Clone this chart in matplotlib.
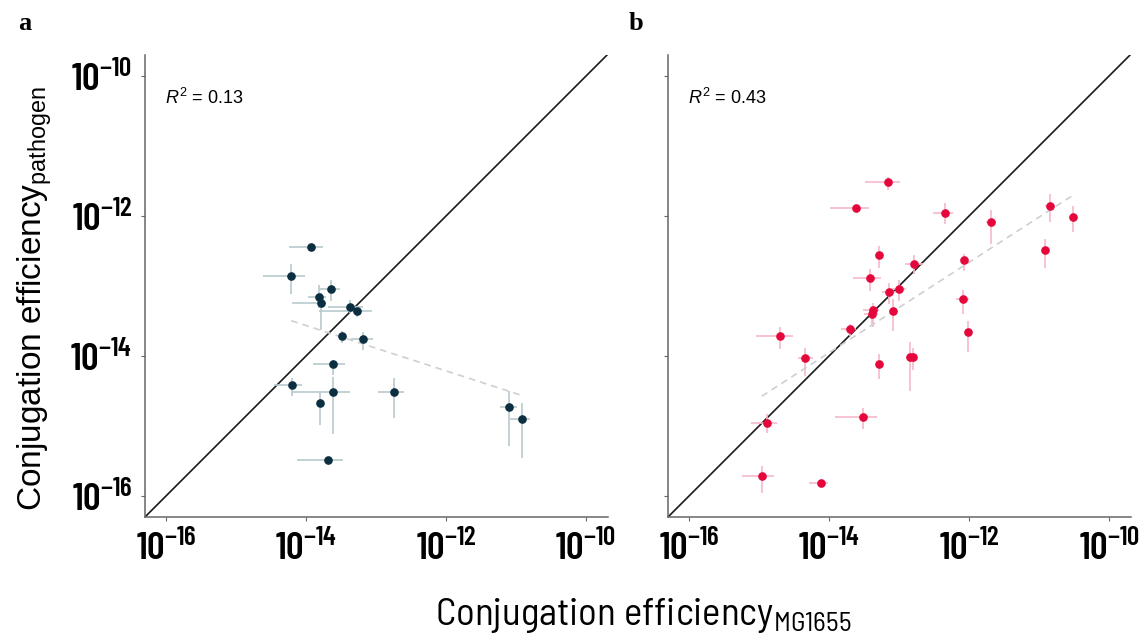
import numpy as np
import matplotlib
matplotlib.use("Agg")
import matplotlib.pyplot as plt
from matplotlib.ticker import FixedLocator, FuncFormatter

plt.rcParams["mathtext.fontset"] = "custom"
plt.rcParams["mathtext.rm"] = "Liberation Sans"
plt.rcParams["mathtext.it"] = "Liberation Sans:italic"
plt.rcParams["mathtext.default"] = "regular"

# log10 conjugation efficiencies: MG1655 (x) vs pathogen host (y), with error ranges
a_x = [-13.93, -14.21, -13.64, -13.82, -13.79, -13.37, -13.27, -13.48, -13.18,
       -13.61, -14.20, -13.62, -13.80, -12.74, -13.69, -11.10, -10.91]
a_x_lo = [-14.24, -14.62, -13.81, -13.97, -14.20, -13.69, -13.81, -13.52, -13.36,
          -13.90, -14.46, -14.20, -13.84, -12.97, -14.13, -11.23, -11.09]
a_x_hi = [-13.75, -14.01, -13.51, -13.71, -13.71, -13.19, -13.05, -13.44, -13.04,
          -13.44, -14.05, -13.37, -13.76, -12.60, -13.47, -10.99, -10.80]
a_y = [-12.44, -12.85, -13.04, -13.15, -13.24, -13.30, -13.35, -13.72, -13.76,
       -14.11, -14.41, -14.51, -14.67, -14.51, -15.49, -14.73, -14.90]
a_y_lo = [-12.46, -13.11, -13.22, -13.32, -13.63, -13.39, -13.44, -13.82, -13.91,
          -14.27, -14.57, -15.11, -14.98, -14.89, -15.51, -15.29, -15.46]
a_y_hi = [-12.42, -12.69, -12.91, -12.99, -13.10, -13.20, -13.29, -13.64, -13.66,
          -14.05, -14.32, -14.30, -14.50, -14.32, -15.47, -14.50, -14.67]

b_x = [-13.16, -13.61, -12.35, -11.68, -10.85, -10.51, -10.91, -13.29, -12.79,
       -12.07, -13.41, -13.14, -13.00, -13.37, -13.38, -13.08, -12.09, -12.01,
       -13.70, -14.70, -14.34, -13.28, -12.84, -12.80, -13.51, -14.89, -14.96, -14.12]
b_x_lo = [-13.48, -13.98, -12.52, -11.76, -10.92, -10.55, -10.95, -13.33, -12.92,
          -12.11, -13.66, -13.25, -13.10, -13.52, -13.50, -13.12, -12.19, -12.05,
          -13.83, -15.04, -14.44, -13.32, -12.89, -12.84, -13.91, -15.11, -15.24, -14.28]
b_x_hi = [-12.98, -13.43, -12.23, -11.62, -10.78, -10.47, -10.87, -13.25, -12.66,
          -12.03, -13.26, -13.03, -12.90, -13.29, -13.30, -13.04, -12.00, -11.97,
          -13.61, -14.52, -14.23, -13.24, -12.80, -12.76, -13.32, -14.75, -14.79, -14.02]
b_y = [-11.52, -11.88, -11.95, -12.09, -11.85, -12.02, -12.49, -12.56, -12.68,
       -12.63, -12.88, -13.08, -13.04, -13.34, -13.40, -13.36, -13.19, -13.66,
       -13.61, -13.71, -14.03, -14.12, -14.01, -14.01, -14.87, -14.95, -15.72, -15.82]
b_y_lo = [-11.63, -11.90, -12.12, -12.40, -12.08, -12.23, -12.74, -12.74, -12.83,
          -12.79, -13.07, -13.25, -13.22, -13.59, -13.55, -13.64, -13.40, -13.94,
          -13.71, -13.90, -14.28, -14.33, -14.50, -14.20, -15.04, -15.10, -15.96, -15.84]
b_y_hi = [-11.44, -11.86, -11.82, -11.91, -11.69, -11.86, -12.33, -12.43, -12.55,
          -12.54, -12.75, -12.95, -12.92, -13.24, -13.28, -13.19, -13.05, -13.50,
          -13.54, -13.58, -13.88, -13.97, -13.80, -13.88, -14.74, -14.83, -15.57, -15.80]

# log-log regression fits (slope, intercept) and their R^2
fit_a = (-0.324, -18.10)
fit_b = (0.646, -4.91)
r2_a = 0.13
r2_b = 0.43

tick_exps = [-16, -14, -12, -10]
lim_lo, lim_hi_x, lim_hi_y = -16.3, -9.686, -9.70

tick_font = dict(family="Barlow Condensed", weight=600, size=28)


def panel(ax, x, xlo, xhi, y, ylo, yhi, fit, r2, dot, bar, show_ylabels):
    x, xlo, xhi = map(np.asarray, (x, xlo, xhi))
    y, ylo, yhi = map(np.asarray, (y, ylo, yhi))
    X, Y = 10.0 ** x, 10.0 ** y
    xerr = [X - 10.0 ** xlo, 10.0 ** xhi - X]
    yerr = [Y - 10.0 ** ylo, 10.0 ** yhi - Y]
    ax.set_xscale("log")
    ax.set_yscale("log")
    ax.set_xlim(10 ** lim_lo, 10 ** lim_hi_x)
    ax.set_ylim(10 ** lim_lo, 10 ** lim_hi_y)

    ax.plot([10 ** lim_lo, 10 ** -9.0], [10 ** lim_lo, 10 ** -9.0],
            color="#1a1a1a", lw=1.2, zorder=2)
    ax.errorbar(X, Y, xerr=xerr, yerr=yerr, fmt="none", ecolor=bar,
                elinewidth=1.2, capsize=0, zorder=3)
    xs = np.array([x.min(), x.max()])
    ax.plot(10.0 ** xs, 10.0 ** (fit[0] * xs + fit[1]), ls=(0, (4, 3)),
            color="#cfcfcf", lw=1.2, zorder=3)
    ax.plot(X, Y, "o", ms=5.2, color=dot, mec=dot, zorder=4)

    ax.text(0.043, 0.907, rf"$\mathit{{R}}^2$ = {r2:.2f}", transform=ax.transAxes,
            fontsize=13, family="Liberation Sans", va="center", ha="left")

    for s in ("top", "right"):
        ax.spines[s].set_visible(False)
    for s in ("left", "bottom"):
        ax.spines[s].set_color("#666666")
        ax.spines[s].set_linewidth(1.1)
    ticks = [10.0 ** e for e in tick_exps]
    ax.xaxis.set_major_locator(FixedLocator(ticks))
    ax.yaxis.set_major_locator(FixedLocator(ticks))
    ax.minorticks_off()
    ax.tick_params(length=3, width=0.8, color="#666666", pad=6)
    fmt = FuncFormatter(lambda v, p: rf"$10^{{{int(round(np.log10(v)))}}}$")
    ax.xaxis.set_major_formatter(fmt)
    if show_ylabels:
        ax.yaxis.set_major_formatter(fmt)
    else:
        ax.set_yticklabels([])
    for lab in ax.get_xticklabels() + ax.get_yticklabels():
        lab.set_fontfamily(tick_font["family"])
        lab.set_fontweight(tick_font["weight"])
        lab.set_fontsize(tick_font["size"])


fig = plt.figure(figsize=(11.45, 6.39), dpi=100)
ax_a = fig.add_axes([0.1266, 0.1909, 0.4044, 0.723])
ax_b = fig.add_axes([0.5834, 0.1909, 0.4044, 0.723])

panel(ax_a, a_x, a_x_lo, a_x_hi, a_y, a_y_lo, a_y_hi, fit_a, r2_a,
      "#0b2e40", "#b7c9cd", True)
panel(ax_b, b_x, b_x_lo, b_x_hi, b_y, b_y_lo, b_y_hi, fit_b, r2_b,
      "#e5063b", "#f6b9c8", False)

fig.text(0.016, 0.953, "a", family="Liberation Serif", weight="bold", fontsize=19,
         va="baseline")
fig.text(0.549, 0.953, "b", family="Liberation Serif", weight="bold", fontsize=19,
         va="baseline")

fig.text(0.38, 0.022, "Conjugation efficiency$_{MG1655}$", family="Barlow Semi Condensed",
         fontsize=28, va="baseline", ha="left")
fig.text(0.030, 0.533, "Conjugation efficiency$_{pathogen}$", family="Liberation Sans",
         fontsize=24, rotation=90, va="center", ha="center")

fig.savefig("out.png", dpi=100)
